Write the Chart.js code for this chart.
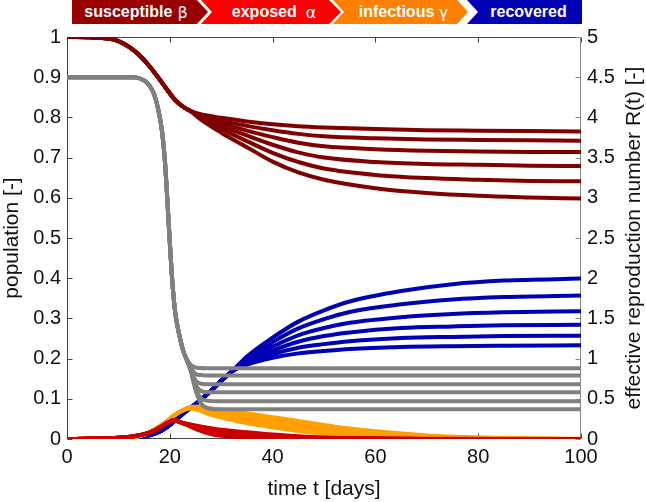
<!DOCTYPE html>
<html>
<head>
<meta charset="utf-8">
<script src="https://cdn.jsdelivr.net/npm/chart.js@4"></script>
<style>
  body { margin: 0; background: #fff; }
  #wrap { position: relative; width: 646px; height: 502px; }
  #chart { position: absolute; left: 0; top: 0; }
  .seg {
    position: absolute; top: 0; height: 24px;
    display: flex; align-items: center; justify-content: center;
    color: #fff; font: bold 16px "Liberation Sans", Arial, sans-serif;
    white-space: pre; box-sizing: border-box;
  }
  .seg .gr { font-weight: normal; font-family: "DejaVu Sans", sans-serif; font-size: 16px; }
  #rtitle {
    position: absolute; left: 633px; top: 238px; width: 420px; margin-left: -210px;
    text-align: center; color: #111; font: 21px "Liberation Sans", Arial, sans-serif;
    line-height: 24px; margin-top: -12px; transform: rotate(-90deg); white-space: nowrap;
  }
</style>
</head>
<body>
<div id="wrap">
  <canvas id="chart" width="646" height="502"></canvas>
  <div class="seg" style="left:72px;width:136px;background:#990000;clip-path:polygon(0 0,125px 0,136px 12px,125px 24px,0 24px);padding-right:8px">susceptible<span class="gr"> β</span></div>
  <div class="seg" style="left:201px;width:140px;background:#ff0000;clip-path:polygon(0 0,128px 0,140px 12px,128px 24px,0 24px,11px 12px);padding-left:6px">exposed  <span class="gr">α</span></div>
  <div class="seg" style="left:333px;width:135px;background:#ff8000;clip-path:polygon(0 0,124px 0,135px 12px,124px 24px,0 24px,11px 12px);padding-left:6px">infectious <span class="gr">γ</span></div>
  <div class="seg" style="left:467px;width:115px;background:#0000b4;clip-path:polygon(0 0,115px 0,115px 24px,0 24px,11px 12px);padding-left:8px">recovered</div>
  <div id="rtitle">effective reproduction number R(t) [-]</div>
</div>
<script>
// six scenarios, index 0 = weakest spread (highest susceptible), 5 = strongest

// susceptible (left axis)
const susDaysShared = [0, 5, 8, 10, 12, 14, 16, 18, 20, 21, 22, 23, 24];
const susShared = [1, 0.999, 0.996, 0.99, 0.976, 0.956, 0.928, 0.895, 0.86, 0.844, 0.832, 0.823, 0.816];
const susDaysSplit = [26, 30, 35, 40, 45, 50, 60, 70, 80, 90, 100];
const susSplit = [
  [0.808, 0.799, 0.790, 0.783, 0.778, 0.775, 0.771, 0.768, 0.767, 0.766, 0.765],
  [0.806, 0.792, 0.779, 0.768, 0.759, 0.753, 0.748, 0.745, 0.744, 0.743, 0.742],
  [0.804, 0.786, 0.767, 0.751, 0.737, 0.728, 0.721, 0.717, 0.715, 0.714, 0.714],
  [0.801, 0.779, 0.755, 0.732, 0.713, 0.700, 0.689, 0.684, 0.682, 0.680, 0.679],
  [0.798, 0.771, 0.741, 0.712, 0.689, 0.673, 0.657, 0.649, 0.645, 0.642, 0.641],
  [0.795, 0.762, 0.726, 0.690, 0.663, 0.645, 0.624, 0.612, 0.605, 0.601, 0.598]
];

// exposed (left axis)
const expDaysShared = [0, 5, 10, 13, 15, 17, 18, 19, 20, 20.5, 21, 22];
const expShared = [0, 0.001, 0.003, 0.007, 0.012, 0.021, 0.028, 0.036, 0.043, 0.046, 0.046, 0.042];
const expDaysSplit = [24, 26, 28, 30, 35, 40, 45, 50, 60, 70, 100];
const expSplit = [
  [0.031, 0.020, 0.012, 0.008, 0.004, 0.002, 0.001, 0, 0, 0, 0],
  [0.032, 0.022, 0.015, 0.011, 0.006, 0.003, 0.002, 0.001, 0, 0, 0],
  [0.033, 0.024, 0.018, 0.014, 0.008, 0.005, 0.003, 0.001, 0, 0, 0],
  [0.034, 0.027, 0.021, 0.017, 0.011, 0.007, 0.004, 0.002, 0.001, 0, 0],
  [0.035, 0.029, 0.024, 0.020, 0.014, 0.009, 0.005, 0.003, 0.001, 0, 0],
  [0.036, 0.031, 0.027, 0.023, 0.017, 0.011, 0.007, 0.004, 0.0015, 0.0005, 0]
];

// infectious (left axis)
const infDaysShared = [0, 5, 10, 13, 15, 17, 18, 19, 20, 21, 22, 23];
const infShared = [0, 0.0005, 0.002, 0.005, 0.011, 0.023, 0.031, 0.04, 0.05, 0.06, 0.068, 0.074];
const infDaysSplit = [24, 26, 28, 32, 36, 40, 45, 50, 55, 60, 70, 80, 90, 100];
const infSplit = [
  [0.076, 0.070, 0.060, 0.048, 0.037, 0.029, 0.020, 0.013, 0.008, 0.005, 0.002, 0.0005, 0, 0],
  [0.077, 0.072, 0.063, 0.052, 0.042, 0.034, 0.025, 0.017, 0.011, 0.007, 0.003, 0.001, 0, 0],
  [0.077, 0.074, 0.067, 0.056, 0.047, 0.039, 0.030, 0.021, 0.015, 0.010, 0.004, 0.0015, 0.0005, 0],
  [0.078, 0.076, 0.070, 0.060, 0.052, 0.044, 0.035, 0.026, 0.018, 0.013, 0.006, 0.002, 0.001, 0],
  [0.079, 0.078, 0.073, 0.065, 0.057, 0.049, 0.040, 0.030, 0.022, 0.016, 0.007, 0.003, 0.001, 0],
  [0.080, 0.080, 0.076, 0.069, 0.062, 0.054, 0.045, 0.035, 0.026, 0.019, 0.009, 0.004, 0.0015, 0.0005]
];

// recovered (left axis)
const recDaysShared = [0, 10, 14, 16, 18, 20, 22, 24, 26, 28, 30, 32];
const recShared = [0, 0.001, 0.004, 0.009, 0.018, 0.035, 0.057, 0.077, 0.097, 0.12, 0.145, 0.167];
const recDaysSplit = [35, 40, 45, 50, 55, 65, 75, 85, 100];
const recSplit = [
  [0.185, 0.202, 0.213, 0.219, 0.224, 0.229, 0.231, 0.232, 0.233],
  [0.189, 0.211, 0.227, 0.236, 0.243, 0.251, 0.254, 0.256, 0.257],
  [0.193, 0.220, 0.242, 0.256, 0.265, 0.276, 0.280, 0.283, 0.284],
  [0.197, 0.230, 0.258, 0.276, 0.289, 0.303, 0.311, 0.315, 0.318],
  [0.201, 0.241, 0.275, 0.298, 0.316, 0.335, 0.347, 0.353, 0.357],
  [0.205, 0.252, 0.292, 0.320, 0.342, 0.368, 0.385, 0.394, 0.399]
];

// effective reproduction number R(t) (right axis)
const rtDaysShared = [0, 10, 13, 15, 16, 17, 18, 18.5, 19, 19.5, 20, 20.5, 21, 21.5, 22, 22.5, 23];
const rtShared = [4.5, 4.5, 4.5, 4.46, 4.4, 4.28, 4.02, 3.82, 3.5, 3.0, 2.45, 1.95, 1.6, 1.4, 1.25, 1.12, 1.03];
const rtDaysSplit = [24, 25, 26, 27, 29, 100];
const rtSplit = [
  [0.86, 0.61, 0.45, 0.39, 0.37, 0.37],
  [0.87, 0.64, 0.51, 0.48, 0.47, 0.47],
  [0.88, 0.68, 0.60, 0.585, 0.58, 0.58],
  [0.89, 0.73, 0.69, 0.682, 0.68, 0.68],
  [0.90, 0.81, 0.795, 0.79, 0.79, 0.79],
  [0.93, 0.89, 0.882, 0.88, 0.88, 0.88]
];

const xTicks = [0, 20, 40, 60, 80, 100];

const FONT = '"Liberation Sans", Arial, sans-serif';
const plain = v => String(Number(v.toFixed(2)));

function joinSeries(d1, v1, d2, v2) {
  const pts = d1.map((d, k) => ({ x: d, y: v1[k] }));
  return pts.concat(d2.map((d, k) => ({ x: d, y: v2[k] })));
}

function lineSet(data, color, order, axis) {
  return {
    data: data,
    borderColor: color,
    borderWidth: 4,
    pointRadius: 0,
    fill: false,
    cubicInterpolationMode: 'monotone',
    borderJoinStyle: 'round',
    yAxisID: axis,
    order: order,
  };
}

const datasets = [];
for (let i = 0; i < 6; i++) {
  datasets.push(lineSet(joinSeries(rtDaysShared, rtShared, rtDaysSplit, rtSplit[i]), '#808080', 0, 'y1'));
  datasets.push(lineSet(joinSeries(susDaysShared, susShared, susDaysSplit, susSplit[i]), '#800000', 1, 'y'));
  datasets.push(lineSet(joinSeries(expDaysShared, expShared, expDaysSplit, expSplit[i]), '#cc0000', 2, 'y'));
  datasets.push(lineSet(joinSeries(infDaysShared, infShared, infDaysSplit, infSplit[i]), '#ffa000', 3, 'y'));
  datasets.push(lineSet(joinSeries(recDaysShared, recShared, recDaysSplit, recSplit[i]), '#0000b4', 4, 'y'));
}

// box around the plot with inward ticks, drawn under the lines
const frame = {
  id: 'frame',
  beforeDatasetsDraw(chart) {
    const { ctx, chartArea: a, scales } = chart;
    const L = Math.round(a.left) + 0.5, R = Math.round(a.right) - 0.5;
    const T = Math.round(a.top) + 0.5, B = Math.round(a.bottom) - 0.5;
    ctx.save();
    ctx.lineWidth = 1;
    ctx.strokeStyle = '#444';
    ctx.beginPath();
    ctx.moveTo(R, T); ctx.lineTo(L, T); ctx.lineTo(L, B); ctx.lineTo(R, B);
    scales.x.ticks.forEach(t => {
      const px = Math.round(scales.x.getPixelForValue(t.value)) + 0.5;
      ctx.moveTo(px, B); ctx.lineTo(px, B - 5);
      ctx.moveTo(px, T); ctx.lineTo(px, T + 5);
    });
    scales.y.ticks.forEach(t => {
      const py = Math.round(scales.y.getPixelForValue(t.value)) + 0.5;
      ctx.moveTo(L, py); ctx.lineTo(L + 5, py);
    });
    ctx.stroke();
    ctx.strokeStyle = '#888';
    ctx.beginPath();
    ctx.moveTo(R, T); ctx.lineTo(R, B);
    scales.y1.ticks.forEach(t => {
      const py = Math.round(scales.y1.getPixelForValue(t.value)) + 0.5;
      ctx.moveTo(R, py); ctx.lineTo(R - 5, py);
    });
    ctx.stroke();
    ctx.restore();
  }
};

new Chart(document.getElementById('chart'), {
  type: 'line',
  data: { datasets: datasets },
  plugins: [frame],
  options: {
    responsive: false,
    animation: false,
    devicePixelRatio: 1,
    layout: { padding: { top: 37, left: 0, right: 0, bottom: 0 } },
    plugins: { legend: { display: false }, tooltip: { enabled: false } },
    scales: {
      x: {
        type: 'linear', min: 0, max: 100,
        afterBuildTicks(s) { s.ticks = xTicks.map(v => ({ value: v })); },
        afterFit(s) { s.height = 63; },
        grid: { display: false, drawTicks: false },
        border: { display: false },
        ticks: { padding: 6, color: '#111', font: { family: FONT, size: 20 }, maxRotation: 0, callback: plain },
        title: { display: true, text: 'time t [days]', color: '#111', padding: 0, font: { family: FONT, size: 21 } }
      },
      y: {
        position: 'left', min: 0, max: 1,
        afterFit(s) { s.width = 67; },
        grid: { display: false, drawTicks: false },
        border: { display: false },
        ticks: { stepSize: 0.1, padding: 6, color: '#111', font: { family: FONT, size: 20 }, callback: plain },
        title: { display: true, text: 'population [-]', color: '#111', padding: 0, font: { family: FONT, size: 21 } }
      },
      y1: {
        position: 'right', min: 0, max: 5,
        afterFit(s) { s.width = 65; },
        grid: { display: false, drawTicks: false },
        border: { display: false },
        ticks: { stepSize: 0.5, padding: 6, color: '#111', font: { family: FONT, size: 20 }, callback: plain },
        title: { display: false }
      }
    }
  }
});
</script>
</body>
</html>
